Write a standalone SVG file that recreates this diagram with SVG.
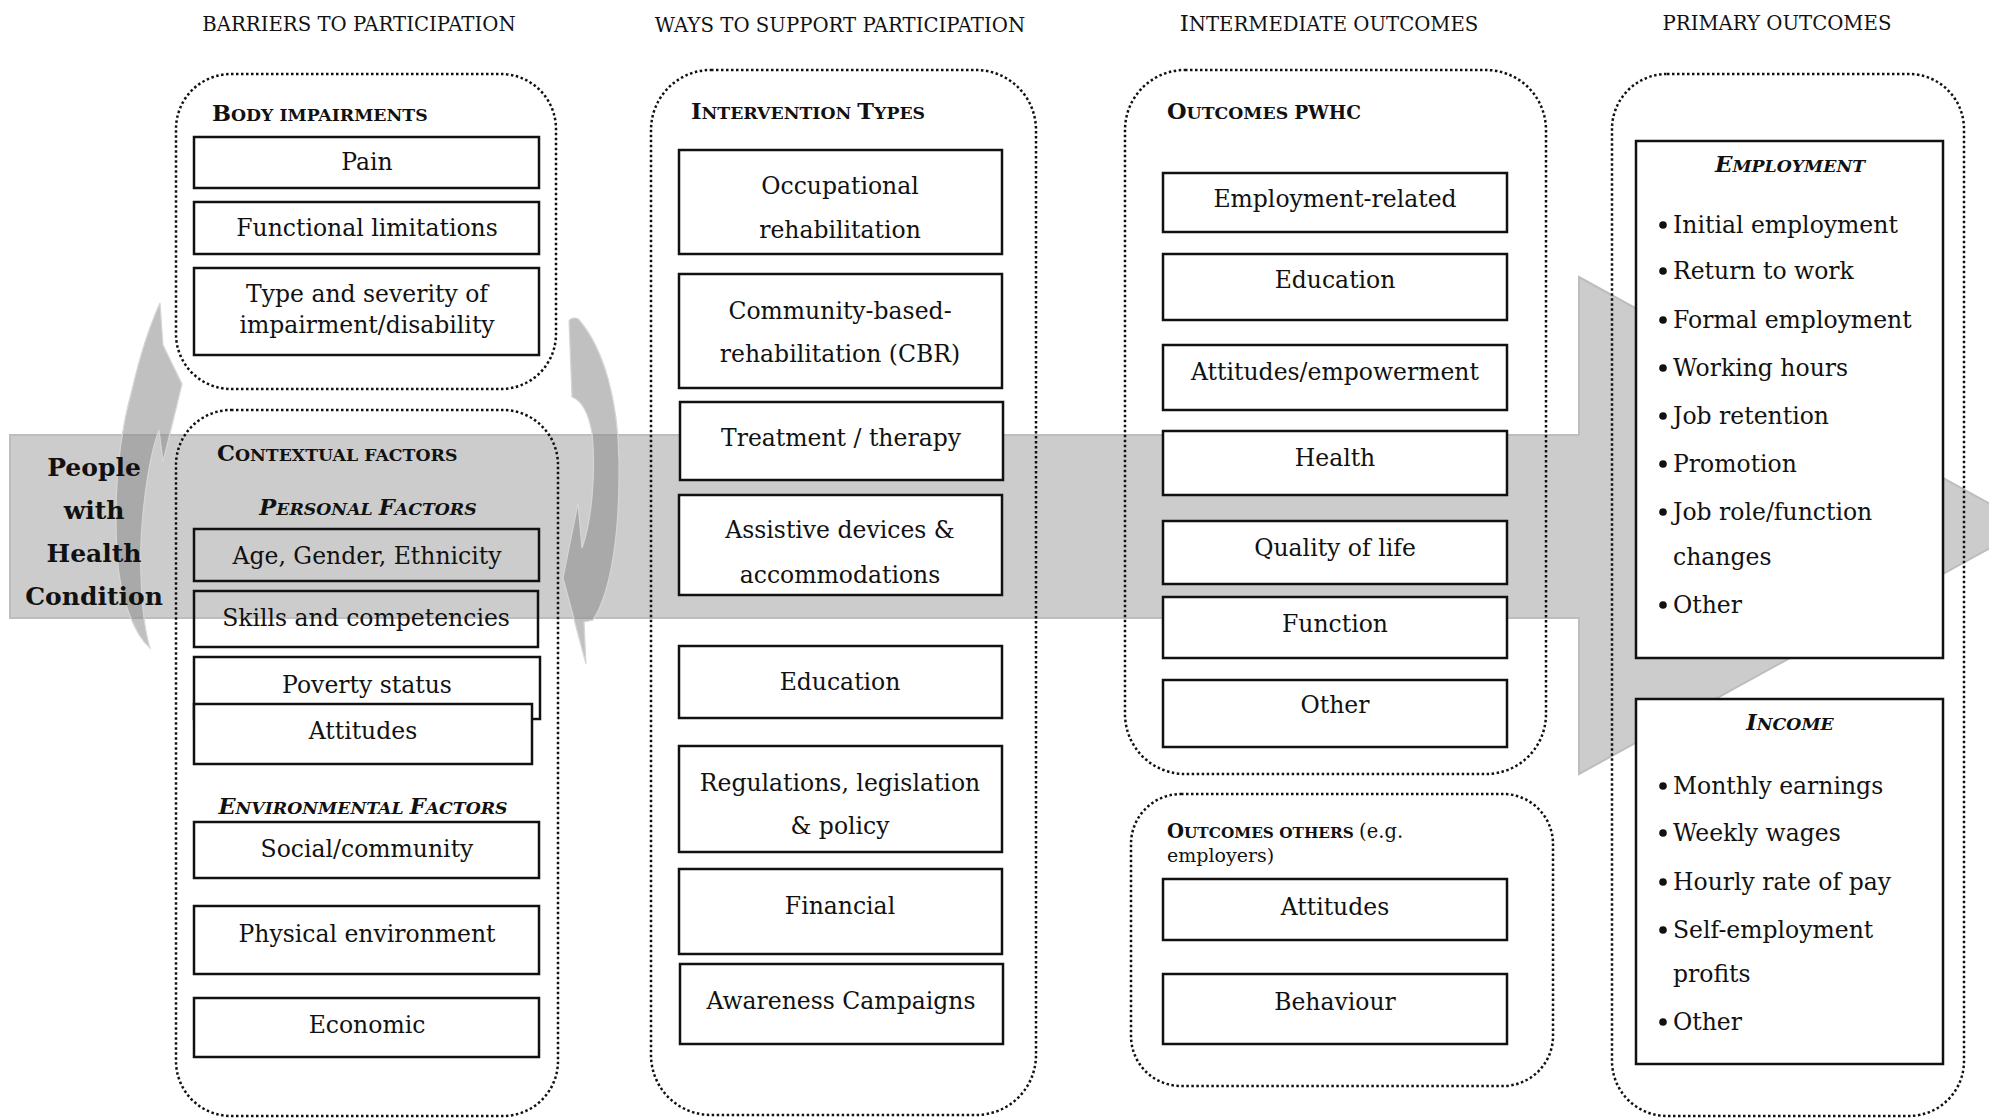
<svg xmlns="http://www.w3.org/2000/svg" width="1989" height="1119" viewBox="0 0 1989 1119">
<style>
.dot{fill:none;stroke:#111;stroke-width:2.5;stroke-dasharray:2.5 2.5}
.box{fill:#fff;stroke:#111;stroke-width:2.5}
.clear{fill:none}
.t{font-family:'DejaVu Serif','Liberation Serif',serif;font-size:23.5px;fill:#111}
.c{text-anchor:middle}
.hd{font-size:19.7px}
.sc{font-weight:bold;font-size:17.3px}
.big{font-size:22.5px}
.it{font-style:italic}
.pp{font-weight:bold;font-size:25px}
.sm{font-size:19px}
.cyc{fill:#8c8c8c;fill-opacity:0.55;stroke:#d6d6d6;stroke-width:1.2}
</style>
<rect width="1989" height="1119" fill="#fff"/>
<g id="connectors">
  <path id="main-arrow" d="M10 435 L1579 435 L1579 277 L2030 526 L1579 774 L1579 618 L10 618 Z" fill="#cccccc" stroke="#bdbdbd" stroke-width="2"/>
  <path id="cycle-left" class="cyc" d="M160 303 L163 345 L182 384 L163 462 L159 430 C147 462 139 530 141 575 C142 610 146 635 150 648 C135 635 120 600 117 555 C114 500 118 440 132 390 C140 355 150 325 160 303 Z"/>
  <path id="cycle-right" class="cyc" d="M569 321 C571 317 578 317 580 321 C604 350 618 400 619 460 C620 530 612 590 593 620 L584 622 L586 664 L563 578 L578 503 L582 548 C592 520 596 470 592 433 C588 410 580 400 572 397 L569 321 Z"/>
</g>
<g id="people">
  <text class="t pp c" x="94" y="476">People</text>
  <text class="t pp c" x="94" y="519">with</text>
  <text class="t pp c" x="94" y="562">Health</text>
  <text class="t pp c" x="94" y="605">Condition</text>
</g>
<g id="headers">
  <text class="t hd c" x="359" y="31">BARRIERS TO PARTICIPATION</text>
  <text class="t hd c" x="840" y="32">WAYS TO SUPPORT PARTICIPATION</text>
  <text class="t hd c" x="1329" y="31"><tspan font-size="23">I</tspan>NTERMEDIATE OUTCOMES</text>
  <text class="t hd c" x="1777" y="30">PRIMARY OUTCOMES</text>
</g>
<g id="body-impairments">
  <rect class="dot" x="176" y="74" width="380" height="315" rx="55"/>
  <text class="t sc" x="212" y="121"><tspan class="big">B</tspan>ODY IMPAIRMENTS</text>
  <rect class="box" x="194" y="137" width="345" height="51"/>
  <text class="t c" x="367" y="170">Pain</text>
  <rect class="box" x="194" y="202" width="345" height="52"/>
  <text class="t c" x="367" y="236">Functional limitations</text>
  <rect class="box" x="194" y="268" width="345" height="87"/>
  <text class="t c" x="367" y="302">Type and severity of</text>
  <text class="t c" x="367" y="333">impairment/disability</text>
</g>
<g id="contextual-factors">
  <rect class="dot" x="176" y="410" width="382" height="706" rx="55"/>
  <text class="t sc" x="217" y="461"><tspan class="big">C</tspan>ONTEXTUAL FACTORS</text>
  <text class="t sc it c" x="368" y="515"><tspan class="big">P</tspan>ERSONAL <tspan class="big">F</tspan>ACTORS</text>
  <rect class="box clear" x="194" y="529" width="345" height="52"/>
  <text class="t c" x="367" y="564">Age, Gender, Ethnicity</text>
  <rect class="box clear" x="194" y="591" width="344" height="56"/>
  <text class="t c" x="366" y="626">Skills and competencies</text>
  <rect class="box" x="194" y="657" width="346" height="62"/>
  <text class="t c" x="367" y="693">Poverty status</text>
  <rect class="box" x="194" y="704" width="338" height="60"/>
  <text class="t c" x="363" y="739">Attitudes</text>
  <text class="t sc it c" x="363" y="814"><tspan class="big">E</tspan>NVIRONMENTAL <tspan class="big">F</tspan>ACTORS</text>
  <rect class="box" x="194" y="822" width="345" height="56"/>
  <text class="t c" x="367" y="857">Social/community</text>
  <rect class="box" x="194" y="906" width="345" height="68"/>
  <text class="t c" x="367" y="942">Physical environment</text>
  <rect class="box" x="194" y="998" width="345" height="59"/>
  <text class="t c" x="367" y="1033">Economic</text>
</g>
<g id="intervention-types">
  <rect class="dot" x="651" y="70" width="385" height="1045" rx="60"/>
  <text class="t sc" x="691" y="119"><tspan class="big">I</tspan>NTERVENTION <tspan class="big">T</tspan>YPES</text>
  <rect class="box" x="679" y="150" width="323" height="104"/>
  <text class="t c" x="840" y="194">Occupational</text>
  <text class="t c" x="840" y="238">rehabilitation</text>
  <rect class="box" x="679" y="274" width="323" height="114"/>
  <text class="t c" x="840" y="319">Community-based-</text>
  <text class="t c" x="840" y="362">rehabilitation (CBR)</text>
  <rect class="box" x="680" y="402" width="323" height="78"/>
  <text class="t c" x="841" y="446">Treatment / therapy</text>
  <rect class="box" x="679" y="495" width="323" height="100"/>
  <text class="t c" x="840" y="538">Assistive devices &amp;</text>
  <text class="t c" x="840" y="583">accommodations</text>
  <rect class="box" x="679" y="646" width="323" height="72"/>
  <text class="t c" x="840" y="690">Education</text>
  <rect class="box" x="679" y="746" width="323" height="106"/>
  <text class="t c" x="840" y="791">Regulations, legislation</text>
  <text class="t c" x="840" y="834">&amp; policy</text>
  <rect class="box" x="679" y="869" width="323" height="85"/>
  <text class="t c" x="840" y="914">Financial</text>
  <rect class="box" x="680" y="964" width="323" height="80"/>
  <text class="t c" x="841" y="1009">Awareness Campaigns</text>
</g>
<g id="outcomes-pwhc">
  <rect class="dot" x="1125" y="70" width="421" height="704" rx="60"/>
  <text class="t sc" x="1167" y="119"><tspan class="big">O</tspan>UTCOMES <tspan font-size="18.5">PWHC</tspan></text>
  <rect class="box" x="1163" y="173" width="344" height="59"/>
  <text class="t c" x="1335" y="207">Employment-related</text>
  <rect class="box" x="1163" y="254" width="344" height="66"/>
  <text class="t c" x="1335" y="288">Education</text>
  <rect class="box" x="1163" y="345" width="344" height="65"/>
  <text class="t c" x="1335" y="380">Attitudes/empowerment</text>
  <rect class="box" x="1163" y="431" width="344" height="64"/>
  <text class="t c" x="1335" y="466">Health</text>
  <rect class="box" x="1163" y="521" width="344" height="63"/>
  <text class="t c" x="1335" y="556">Quality of life</text>
  <rect class="box" x="1163" y="597" width="344" height="61"/>
  <text class="t c" x="1335" y="632">Function</text>
  <rect class="box" x="1163" y="680" width="344" height="67"/>
  <text class="t c" x="1335" y="713">Other</text>
</g>
<g id="outcomes-others">
  <rect class="dot" x="1131" y="794" width="422" height="292" rx="50"/>
  <text class="t sc" x="1167" y="838" style="font-size:15.3px"><tspan font-size="19.5">O</tspan>UTCOMES OTHERS <tspan font-weight="normal" font-size="19.5">(e.g.</tspan></text>
  <text class="t sm" x="1167" y="862">employers)</text>
  <rect class="box" x="1163" y="879" width="344" height="61"/>
  <text class="t c" x="1335" y="915">Attitudes</text>
  <rect class="box" x="1163" y="974" width="344" height="70"/>
  <text class="t c" x="1335" y="1010">Behaviour</text>
</g>
<g id="primary-outcomes">
  <rect class="dot" x="1612" y="74" width="352" height="1042" rx="55"/>
  <rect class="box" x="1636" y="141" width="307" height="517" stroke-width="3"/>
  <text class="t sc it c" x="1790" y="172"><tspan font-size="23">E</tspan>MPLOYMENT</text>
  <g fill="#111">
    <circle cx="1663" cy="225" r="3.8"/><circle cx="1663" cy="271" r="3.8"/><circle cx="1663" cy="320" r="3.8"/>
    <circle cx="1663" cy="368" r="3.8"/><circle cx="1663" cy="416" r="3.8"/><circle cx="1663" cy="464" r="3.8"/>
    <circle cx="1663" cy="512" r="3.8"/><circle cx="1663" cy="605" r="3.8"/>
  </g>
  <text class="t" x="1673" y="233">Initial employment</text>
  <text class="t" x="1673" y="279">Return to work</text>
  <text class="t" x="1673" y="328">Formal employment</text>
  <text class="t" x="1673" y="376">Working hours</text>
  <text class="t" x="1673" y="424">Job retention</text>
  <text class="t" x="1673" y="472">Promotion</text>
  <text class="t" x="1673" y="520">Job role/function</text>
  <text class="t" x="1673" y="565">changes</text>
  <text class="t" x="1673" y="613">Other</text>
  <rect class="box" x="1636" y="699" width="307" height="365" stroke-width="3"/>
  <text class="t sc it c" x="1790" y="730"><tspan class="big">I</tspan>NCOME</text>
  <g fill="#111">
    <circle cx="1663" cy="786" r="3.8"/><circle cx="1663" cy="833" r="3.8"/><circle cx="1663" cy="882" r="3.8"/>
    <circle cx="1663" cy="930" r="3.8"/><circle cx="1663" cy="1022" r="3.8"/>
  </g>
  <text class="t" x="1673" y="794">Monthly earnings</text>
  <text class="t" x="1673" y="841">Weekly wages</text>
  <text class="t" x="1673" y="890">Hourly rate of pay</text>
  <text class="t" x="1673" y="938">Self-employment</text>
  <text class="t" x="1673" y="982">profits</text>
  <text class="t" x="1673" y="1030">Other</text>
</g>
</svg>
